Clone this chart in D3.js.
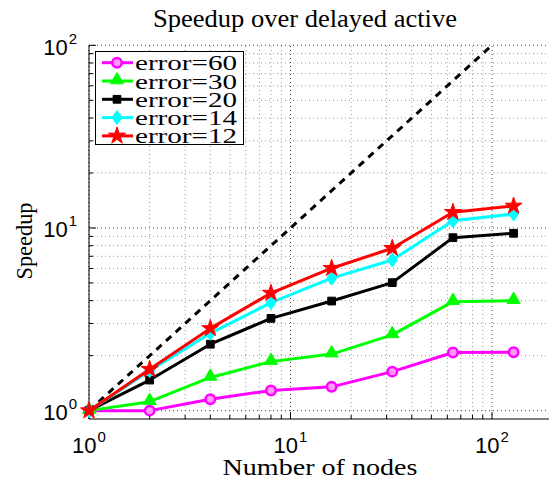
<!DOCTYPE html>
<meta charset="utf-8">
<title>Speedup over delayed active</title>
<script src="https://d3js.org/d3.v7.min.js"></script>
<style>
  body { margin: 0; background: white; }
  .serif { font-family: "Liberation Serif", "Times New Roman", serif; fill: black; }
  .tick { font-family: "Liberation Sans", Arial, sans-serif; fill: black; }
</style>
<body>
<div id="chart"></div>
<script>
var nodes = [1, 2, 4, 8, 16, 32, 64, 128];
var err60 = [1, 1.0, 1.155, 1.29, 1.35, 1.635, 2.08, 2.09];
var err30 = [1, 1.12, 1.52, 1.855, 2.04, 2.6, 3.95, 4.0];
var err20 = [1, 1.47, 2.31, 3.2, 3.98, 5.02, 8.85, 9.35];
var err14 = [1, 1.655, 2.65, 3.9, 5.31, 6.68, 10.96, 11.93];
var err12 = [1, 1.685, 2.82, 4.4, 6.02, 7.74, 12.19, 13.2];
var idealX = [1, 100];
var idealY = [1, 100];
var seriesNames = ["error=60", "error=30", "error=20", "error=14", "error=12"];
var seriesColors = ["#ff00ff", "#00ff00", "#000000", "#00ffff", "#ff0000"];
var seriesMarkers = ["circle", "triangle", "square", "diamond", "star"];
var xTicks = [1, 10, 100];
var yTicks = [1, 10, 100];

var series = [err60, err30, err20, err14, err12].map(function(v, i) {
  return { name: seriesNames[i], color: seriesColors[i], marker: seriesMarkers[i],
           pts: nodes.map(function(n, j) { return [n, v[j]]; }) };
});

var W = 549, H = 480;
var plotLeft = 89, plotBottom = 419, plotTop = 45.3;

var svg = d3.select("#chart").append("svg")
  .attr("width", W).attr("height", H)
  .style("display", "block");

var x = d3.scaleLog().domain([1, 200]).range([plotLeft, plotLeft + 201.5 * Math.log10(200)]);
var y = d3.scaleLog().domain([0.9, 100]).range([plotBottom, plotTop]);

var minorX = [2,3,4,5,6,7,8,9,20,30,40,50,60,70,80,90];
var minorY = [2,3,4,5,6,7,8,9,20,30,40,50,60,70,80,90];

// grid, dotted like matlab
var grid = svg.append("g");
grid.selectAll(".gxm").data(minorX).enter().append("line")
  .attr("x1", function(d) { return x(d); }).attr("x2", function(d) { return x(d); })
  .attr("y1", plotBottom).attr("y2", plotTop)
  .attr("stroke", "#999").attr("stroke-width", 1).attr("stroke-dasharray", "1,3");
grid.selectAll(".gym").data(minorY).enter().append("line")
  .attr("y1", function(d) { return y(d); }).attr("y2", function(d) { return y(d); })
  .attr("x1", plotLeft).attr("x2", W)
  .attr("stroke", "#999").attr("stroke-width", 1).attr("stroke-dasharray", "1,3");
grid.selectAll(".gx").data(xTicks).enter().append("line")
  .attr("x1", function(d) { return x(d); }).attr("x2", function(d) { return x(d); })
  .attr("y1", plotBottom).attr("y2", plotTop)
  .attr("stroke", "#444").attr("stroke-width", 1).attr("stroke-dasharray", "1,3");
grid.selectAll(".gy").data(yTicks).enter().append("line")
  .attr("y1", function(d) { return y(d); }).attr("y2", function(d) { return y(d); })
  .attr("x1", plotLeft).attr("x2", W)
  .attr("stroke", "#444").attr("stroke-width", 1).attr("stroke-dasharray", "1,3");

// axes lines and inward ticks
svg.append("line").attr("x1", plotLeft).attr("x2", plotLeft).attr("y1", plotTop).attr("y2", plotBottom)
  .attr("stroke", "black").attr("stroke-width", 1);
svg.append("line").attr("x1", plotLeft).attr("x2", W).attr("y1", plotBottom).attr("y2", plotBottom)
  .attr("stroke", "black").attr("stroke-width", 1);

svg.selectAll(".tx").data(xTicks.concat(minorX)).enter().append("line")
  .attr("x1", function(d) { return x(d); }).attr("x2", function(d) { return x(d); })
  .attr("y1", plotBottom).attr("y2", function(d) { return plotBottom - (xTicks.indexOf(d) >= 0 ? 7 : 4); })
  .attr("stroke", "black");
svg.selectAll(".ty").data(yTicks.concat(minorY)).enter().append("line")
  .attr("y1", function(d) { return y(d); }).attr("y2", function(d) { return y(d); })
  .attr("x1", plotLeft).attr("x2", function(d) { return plotLeft + (yTicks.indexOf(d) >= 0 ? 7 : 4); })
  .attr("stroke", "black");

// tick labels 10^k
function powLabel(g, d) {
  var t = g.append("text").attr("class", "tick").attr("font-size", 22);
  t.append("tspan").text("10");
  t.append("tspan").attr("font-size", 15).attr("dy", -11).attr("dx", 1).text(Math.round(Math.log10(d)));
  return t;
}
xTicks.forEach(function(d) {
  var g = svg.append("g").attr("transform", "translate(" + x(d) + "," + 453 + ")");
  powLabel(g, d).attr("text-anchor", "middle");
});
yTicks.forEach(function(d) {
  var g = svg.append("g").attr("transform", "translate(" + 77 + "," + (y(d) + 9.5) + ")");
  powLabel(g, d).attr("text-anchor", "end");
});

// ideal speedup
svg.append("path")
  .datum(idealX.map(function(v, i) { return [v, idealY[i]]; }))
  .attr("d", d3.line().x(function(d) { return x(d[0]); }).y(function(d) { return y(d[1]); }))
  .attr("fill", "none").attr("stroke", "black").attr("stroke-width", 3)
  .attr("stroke-dasharray", "7,6");

function markerPath(kind) {
  if (kind === "triangle") return d3.symbol().type(d3.symbolTriangle).size(75)();
  if (kind === "square") return d3.symbol().type(d3.symbolSquare).size(60)();
  if (kind === "diamond") return "M0,-7L5,0L0,7L-5,0Z";
  if (kind === "star") return d3.symbol().type(d3.symbolStar).size(90)();
  return d3.symbol().type(d3.symbolCircle).size(70)();
}
function drawMarker(g, s) {
  var p = g.append("path").attr("d", markerPath(s.marker));
  if (s.marker === "circle") {
    p.attr("fill", "#ff99ff").attr("stroke", s.color).attr("stroke-width", 2.5);
  } else {
    p.attr("fill", s.color).attr("stroke", s.color).attr("stroke-width", 1);
  }
  if (s.marker === "triangle") p.attr("transform", "translate(0,-1)");
}

var line = d3.line().x(function(d) { return x(d[0]); }).y(function(d) { return y(d[1]); });
series.forEach(function(s) {
  svg.append("path").datum(s.pts).attr("d", line)
    .attr("fill", "none").attr("stroke", s.color).attr("stroke-width", 3)
    .attr("stroke-linejoin", "round");
  s.pts.forEach(function(p) {
    var g = svg.append("g").attr("transform", "translate(" + x(p[0]) + "," + y(p[1]) + ")");
    drawMarker(g, s);
  });
});

// legend
var leg = svg.append("g");
leg.append("rect").attr("x", 95.5).attr("y", 51.5).attr("width", 148).attr("height", 93)
  .attr("fill", "white").attr("stroke", "black").attr("stroke-width", 1);
series.forEach(function(s, i) {
  var cy = 62.7 + i * 18.3;
  leg.append("line").attr("x1", 102).attr("x2", 133).attr("y1", cy).attr("y2", cy)
    .attr("stroke", s.color).attr("stroke-width", 3);
  drawMarker(leg.append("g").attr("transform", "translate(117," + cy + ")"), s);
  leg.append("text").attr("class", "serif").attr("x", 135).attr("y", cy + 7.5)
    .attr("font-size", 22).attr("textLength", 102).attr("lengthAdjust", "spacingAndGlyphs")
    .text(s.name);
});

// titles
svg.append("text").attr("class", "serif").attr("x", 305).attr("y", 27)
  .attr("text-anchor", "middle").attr("font-size", 25)
  .attr("textLength", 304).attr("lengthAdjust", "spacingAndGlyphs")
  .text("Speedup over delayed active");
svg.append("text").attr("class", "serif").attr("x", 320).attr("y", 475)
  .attr("text-anchor", "middle").attr("font-size", 23)
  .attr("textLength", 195).attr("lengthAdjust", "spacingAndGlyphs")
  .text("Number of nodes");
svg.append("text").attr("class", "serif")
  .attr("transform", "translate(32,241) rotate(-90)")
  .attr("text-anchor", "middle").attr("font-size", 23)
  .attr("textLength", 77).attr("lengthAdjust", "spacingAndGlyphs")
  .text("Speedup");
</script>
</body>
